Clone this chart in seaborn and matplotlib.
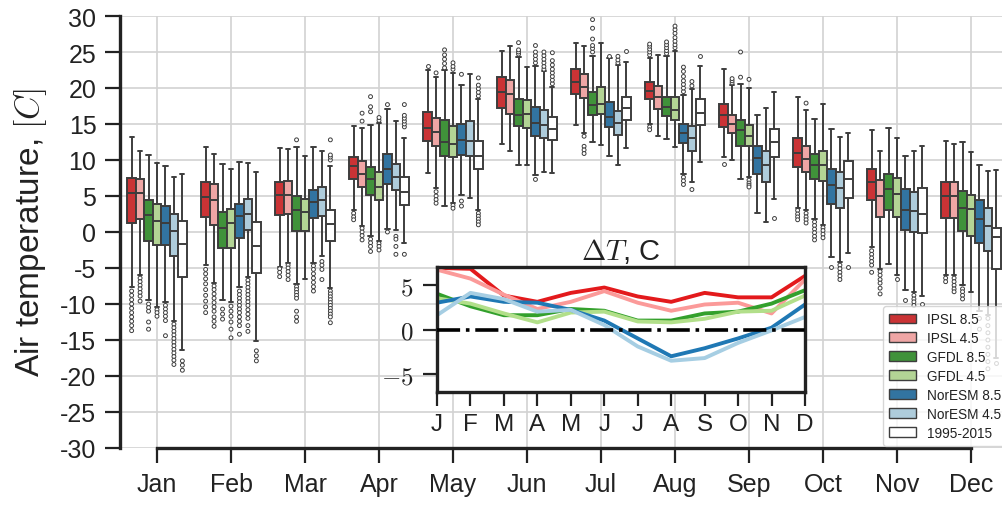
import matplotlib
matplotlib.use("Agg")
import matplotlib.pyplot as plt
from matplotlib.patches import Patch
import pandas as pd
import seaborn as sns

# ---------------------------------------------------------------- data
months = ["Jan", "Feb", "Mar", "Apr", "May", "Jun",
          "Jul", "Aug", "Sep", "Oct", "Nov", "Dec"]
month_letters = ["J", "F", "M", "A", "M", "J", "J", "A", "S", "O", "N", "D"]
models = ["IPSL 8.5", "IPSL 4.5", "GFDL 8.5", "GFDL 4.5",
          "NorESM 8.5", "NorESM 4.5", "1995-2015"]

# monthly box summaries: (whisker low, Q1, median, Q3, whisker high), deg C
ipsl85 = [(-7.6, 1.3, 5.4, 7.5, 13.2), (-4.6, 2.1, 4.9, 7.0, 11.8),
          (-4.8, 2.3, 5.1, 7.0, 11.6), (3.0, 7.4, 9.1, 10.4, 14.7),
          (8.2, 12.6, 14.5, 16.6, 22.5), (12.2, 17.2, 19.4, 21.5, 25.1),
          (14.8, 19.2, 20.9, 22.6, 26.2), (15.0, 18.5, 19.6, 20.8, 24.2),
          (10.4, 14.6, 16.25, 17.8, 22.7), (3.3, 9.0, 11.0, 13.0, 18.8),
          (-2.1, 4.5, 7.0, 8.75, 14.2), (-6.0, 1.9, 5.0, 6.9, 12.6)]
ipsl45 = [(-6.0, 1.85, 5.4, 7.3, 11.2), (-7.1, 1.0, 4.4, 6.6, 10.9),
          (-4.3, 2.5, 5.1, 7.1, 11.5), (0.9, 6.25, 8.1, 9.8, 14.4),
          (6.1, 11.9, 13.9, 15.8, 21.5), (11.2, 16.4, 19.1, 21.1, 25.9),
          (13.8, 18.6, 20.1, 22.0, 25.8), (13.4, 17.1, 18.8, 20.3, 24.6),
          (9.95, 13.7, 15.0, 16.3, 20.4), (3.0, 8.3, 10.2, 11.9, 17.0),
          (-5.1, 2.1, 5.0, 7.2, 11.2), (-6.0, 1.9, 5.0, 6.9, 12.2)]
gfdl85 = [(-9.5, -1.2, 2.3, 4.5, 10.7), (-9.4, -2.2, 0.6, 2.8, 9.5),
          (-7.2, 0.1, 3.0, 5.0, 11.8), (-0.6, 5.1, 7.4, 9.0, 14.9),
          (3.6, 10.6, 12.45, 15.5, 22.5), (9.35, 14.7, 16.25, 18.5, 24.3),
          (12.45, 16.25, 17.7, 19.5, 24.5), (12.9, 16.1, 17.4, 18.75, 24.4),
          (7.3, 12.0, 14.2, 15.6, 20.6), (1.8, 7.4, 9.3, 10.9, 15.7),
          (-4.4, 3.1, 6.0, 8.1, 14.5), (-7.4, 0.2, 3.4, 5.7, 12.5)]
gfdl45 = [(-10.4, -1.8, 1.5, 3.9, 9.6), (-9.7, -2.2, 1.2, 3.2, 8.7),
          (-6.5, 0.1, 2.8, 4.6, 10.6), (-1.3, 4.4, 6.3, 8.4, 15.1),
          (4.0, 10.4, 12.2, 14.7, 22.1), (9.35, 14.4, 16.4, 18.3, 22.9),
          (12.1, 16.4, 17.8, 20.2, 26.25), (11.8, 15.5, 17.0, 18.8, 25.2),
          (7.6, 11.9, 13.4, 14.8, 20.0), (1.0, 7.1, 9.35, 11.3, 17.8),
          (-6.0, 2.1, 5.3, 7.5, 13.1), (-8.3, -0.6, 3.2, 5.2, 11.1)]
nor85 = [(-9.7, -1.8, 1.2, 3.6, 9.2), (-7.7, -0.8, 2.2, 3.9, 9.7),
         (-4.3, 1.9, 4.1, 5.9, 11.8), (0.4, 6.6, 8.75, 10.8, 17.1),
         (5.1, 10.7, 12.8, 15.0, 20.4), (7.9, 13.4, 15.1, 17.3, 23.0),
         (10.5, 14.6, 16.0, 18.0, 24.1), (8.1, 12.3, 13.8, 15.0, 19.0),
         (2.7, 8.1, 10.3, 12.0, 16.3), (-3.5, 3.9, 6.5, 8.8, 14.3),
         (-8.0, 0.3, 3.1, 6.0, 10.6), (-11.0, -1.5, 1.85, 4.5, 9.3)]
nor45 = [(-12.4, -3.4, 0.1, 2.5, 7.6), (-6.3, 0.3, 2.5, 4.6, 9.6),
         (-3.4, 2.2, 4.4, 6.3, 11.2), (0.3, 5.9, 7.7, 9.5, 15.4),
         (4.7, 10.5, 12.7, 15.4, 21.9), (8.4, 13.1, 14.8, 16.9, 22.3),
         (9.3, 13.5, 15.1, 16.85, 23.2), (6.9, 11.3, 13.1, 14.7, 19.8),
         (1.4, 6.9, 9.3, 11.3, 17.2), (-4.2, 3.4, 6.1, 8.4, 13.2),
         (-8.4, 0.0, 2.9, 5.6, 11.2), (-11.5, -2.6, 0.9, 3.3, 8.5)]
hist = [(-16.4, -6.2, -1.7, 1.5, 8.1), (-15.2, -5.7, -2.0, 1.4, 8.4),
        (-7.8, -1.3, 1.1, 3.1, 9.1), (-1.5, 3.8, 5.5, 7.6, 13.0),
        (3.0, 8.75, 10.5, 12.7, 18.5), (8.2, 12.8, 14.3, 16.0, 20.2),
        (11.7, 15.6, 17.2, 18.7, 23.6), (9.7, 14.9, 16.5, 18.5, 23.0),
        (4.6, 10.4, 12.45, 14.3, 19.5), (-2.9, 4.7, 7.4, 9.9, 13.8),
        (-8.9, -0.2, 2.5, 6.1, 12.0), (-17.5, -5.2, -0.7, 0.6, 8.6)]

# outlying values beyond the whiskers, per month
ipsl85_out = [[-8.2, -8.8, -9.4, -10.0, -10.6, -11.2, -11.8, -12.4, -13.0, -13.7],
              [-5.2, -5.8, -6.5, -7.2, -8.0, -8.8, -9.6, -10.4, -11.2],
              [-5.1, -5.6, -6.2], [2.6, 2.1, 1.7], [23.0], [], [],
              [24.6, 25.0, 25.4, 25.8, 26.1, 14.6, 14.2], [9.5],
              [3.0, 2.5, 2.1, 1.7], [-2.6, -3.1, -3.6, -4.1, -4.6, -5.6], [-6.4, -6.9]]
ipsl45_out = [[-6.4, -6.9, -7.4, -7.9, -8.4, -8.9, -9.6],
              [-7.5, -8.0, -8.6, -9.2, -9.8, -10.4, -11.0, -11.8, -12.4, -13.1],
              [-4.6, -5.0, -5.5, -6.0, -6.6], [0.5, 0.0, -0.5, -1.1, 15.4, 16.5],
              [5.6, 5.0, 4.5, 4.0, 22.1], [], [13.3, 11.9, 11.4, 10.9], [],
              [20.7, 21.0, 21.3], [2.6, 2.1, 1.7, 1.25, 17.9],
              [-5.5, -6.0, -6.6, -7.1, -7.8, -8.6], [-6.4, -6.9, -7.4, -7.9, -8.3]]
gfdl85_out = [[-10.0, -10.5, -11.0, -12.5, -13.5], [-10.7, -11.4, -12.1],
              [-7.6, -8.0, -8.4, -8.8, -9.2, -11.0, -11.8, -12.4, 12.8],
              [-1.0, -1.5, -2.0, -2.7, 16.7, 17.4, 18.8],
              [22.8, 23.4, 24.0, 24.6, 25.3], [24.7, 25.0, 25.3, 26.3],
              [25.0, 25.5, 25.9, 26.8, 28.3, 29.5], [24.8, 25.2, 25.6, 26.0, 26.4],
              [21.5, 25.0], [1.4, 0.9, 0.4, -0.1, -0.6, -1.1], [], [-7.9, -8.3, -8.8, -9.3]]
gfdl45_out = [[-10.8, -11.2, -11.7], [-10.3, -11.0, -11.7, -12.5, -13.5, -14.7], [],
              [-1.6, -2.0, -2.5, 15.5, 15.9], [3.7, 3.3, 22.6, 23.0, 23.5], [], [],
              [25.6, 26.0, 26.5, 27.0, 27.6, 28.1, 28.6], [21.2, 7.2, 6.8, 6.5, 6.25],
              [0.6, 0.2, -0.3, -0.8], [-6.5], []]
nor85_out = [[-10.2, -10.7, -11.2, -11.7, -12.3, -14.4],
             [-8.2, -8.7, -9.2, -9.7, -10.2, -10.7, -11.2, -11.8, -12.4, -13.0, -14.2],
             [-4.7, -5.2, -5.8, -6.4, -7.0, -7.6, -8.2], [0.0, 17.7],
             [4.3, 3.6, 21.9], [23.5, 24.0, 24.5, 25.0, 25.9, 7.3], [24.4],
             [19.5, 20.0, 20.5, 21.0, 21.6, 22.3, 22.9, 7.6, 7.1, 6.6], [],
             [-4.8], [-9.5], [-12.0, -13.5]]
nor45_out = [[-12.8, -13.3, -13.8, -14.3, -14.8, -15.3, -15.8, -16.3, -16.8, -17.3, -17.8, -18.4],
             [-6.7, -7.2, -7.7, -8.2, -8.7, -9.2, -9.7, -10.2, -10.8, -11.4, -12.0, -13.0, -13.8],
             [-4.1, -4.6, -5.2, -6.6], [-0.6, -1.0, -2.0, -3.1], [],
             [22.6, 23.0, 23.5, 24.0, 24.5, 25.0], [23.5, 23.9, 24.4], [20.3, 20.9, 5.9],
             [], [-4.6, -5.1, -5.6, -6.1, -6.6], [-8.8, -9.3, -9.7, -10.2],
             [-12.0, -13.0, -14.0, -15.0, -16.0, -17.0, -18.0, -19.0]]
hist_out = [[-17.9, -18.5, -19.2], [-16.5, -17.2, -17.9],
            [-8.2, -8.6, -9.0, -9.4, -9.8, -10.2, -10.6, -11.0, -11.4, -11.8, -12.6,
             10.0, 10.4, 10.7, 12.8],
            [-3.1, 14.6, 15.0, 15.4, 15.8, 16.2, 17.7],
            [2.6, 2.2, 1.8, 1.4, 1.0, 18.9, 19.4, 19.9, 20.4, 21.4],
            [20.6, 21.1, 21.6, 22.1, 22.6, 23.2, 23.8, 24.9], [25.1], [24.4],
            [1.9], [-4.8], [-10.0], [-18.2]]

# monthly mean warming relative to 1995-2015, deg C
ipsl85_dt = [6.9, 6.8, 3.8, 3.1, 4.1, 4.7, 3.7, 3.1, 4.1, 3.6, 3.6, 6.0]
ipsl45_dt = [6.7, 5.7, 3.9, 2.3, 3.1, 4.3, 3.0, 2.1, 2.8, 3.0, 1.8, 5.6]
gfdl85_dt = [4.0, 2.6, 1.6, 1.6, 2.3, 2.1, 1.0, 1.0, 1.8, 2.0, 2.9, 4.4]
gfdl45_dt = [3.5, 2.9, 1.8, 0.8, 1.9, 2.0, 0.9, 0.8, 1.2, 2.0, 2.1, 3.8]
nor85_dt = [3.0, 3.7, 3.1, 3.0, 2.2, 1.0, -1.0, -3.0, -2.1, -1.0, 0.2, 2.8]
nor45_dt = [1.6, 4.1, 3.4, 2.0, 2.2, 0.5, -1.9, -3.5, -3.2, -1.5, -0.1, 1.4]

# ---------------------------------------------------------------- frames
box_stats = [ipsl85, ipsl45, gfdl85, gfdl45, nor85, nor45, hist]
box_outliers = [ipsl85_out, ipsl45_out, gfdl85_out, gfdl45_out, nor85_out, nor45_out, hist_out]
warming = [ipsl85_dt, ipsl45_dt, gfdl85_dt, gfdl45_dt, nor85_dt, nor45_dt]

box_rows, out_rows, dt_rows = [], [], []
for model, stats, outs in zip(models, box_stats, box_outliers):
    for month, s, o in zip(months, stats, outs):
        box_rows += [(month, model, v) for v in s]
        out_rows += [(month, model, v) for v in o]
for model, series in zip(models, warming):
    dt_rows += [(i, model, v) for i, v in enumerate(series)]
box_df = pd.DataFrame(box_rows, columns=["month", "model", "temp"])
out_df = pd.DataFrame(out_rows, columns=["month", "model", "temp"])
dt_df = pd.DataFrame(dt_rows, columns=["mi", "model", "dT"])

# ---------------------------------------------------------------- style
sns.set_theme(style="ticks")
plt.rcParams["font.family"] = ["Liberation Sans", "DejaVu Sans"]
plt.rcParams["mathtext.fontset"] = "cm"
plt.rcParams["axes.unicode_minus"] = False

paired = sns.color_palette("Paired")
colors = [paired[5], paired[4], paired[3], paired[2], paired[1], paired[0], (1, 1, 1)]
box_pal = dict(zip(models, colors))
line_pal = dict(zip(models[:6], colors[:6]))
edge = "#3d3d3d"
ink = "#222222"

W, H = 1002, 506
fig = plt.figure(figsize=(W / 100, H / 100), dpi=100)

# ---------------------------------------------------------------- main panel
ax = fig.add_axes([120 / W, (H - 449) / H, 888 / W, 432 / H])
sns.boxplot(data=box_df, x="month", y="temp", hue="model", order=months,
            hue_order=models, palette=box_pal, whis=(0, 100), showfliers=False,
            width=0.8, linewidth=1.4, linecolor=edge, legend=False, ax=ax)
sns.stripplot(data=out_df, x="month", y="temp", hue="model", order=months,
              hue_order=models, palette={m: "white" for m in models},
              dodge=True, jitter=False, size=2.8, linewidth=0.7,
              edgecolor=edge, legend=False, ax=ax)

ax.set_xlim(-0.5, 11.5)
ax.set_ylim(-30, 30)
ax.set_yticks(range(-30, 31, 5))
ax.set_xlabel("")
ax.set_ylabel("Air temperature, $[C]$", fontsize=24, color=ink, labelpad=8)
ax.set_axisbelow(True)
ax.grid(True, axis="both", color="#d2d2d2", lw=1.2)
for side in ("top", "right"):
    ax.spines[side].set_visible(False)
ax.spines["left"].set_bounds(-30, 30)
ax.spines["bottom"].set_bounds(0, 11)
for side in ("left", "bottom"):
    ax.spines[side].set_linewidth(2.4)
    ax.spines[side].set_color(ink)
ax.tick_params(axis="both", length=11, width=1.6, color=ink,
               labelsize=18, labelcolor=ink, pad=6)

# ---------------------------------------------------------------- inset
axin = fig.add_axes([437 / W, (H - 393) / H, 368 / W, 125 / H])
axin.set_facecolor("white")
sns.lineplot(data=dt_df, x="mi", y="dT", hue="model", hue_order=models[:6],
             palette=line_pal, lw=2.8, legend=False, ax=axin)
axin.axhline(0, color="black", ls="-.", lw=2.6, zorder=5)
axin.set_xlim(0, 11)
axin.set_ylim(-7, 7)
axin.set_xticks(range(12))
axin.set_xticklabels(month_letters)
axin.set_yticks([-5, 0, 5])
axin.set_yticklabels(["$-5$", "$0$", "$5$"])
axin.set_xlabel("")
axin.set_ylabel("")
axin.grid(False)
for sp in axin.spines.values():
    sp.set_linewidth(2.4)
    sp.set_color(ink)
axin.tick_params(axis="x", length=10, width=1.6, color=ink, labelsize=17.5,
                 labelcolor=ink, pad=5)
axin.tick_params(axis="y", length=10, width=1.6, color=ink, labelsize=18,
                 labelcolor=ink, pad=7)
axin.set_title("$\\Delta T$, C", fontsize=21, color=ink, pad=6)

# ---------------------------------------------------------------- legend
handles = [Patch(facecolor=sns.desaturate(c, 0.75) if m != "1995-2015" else "white",
                 edgecolor=edge, linewidth=1.0, label=m)
           for m, c in zip(models, colors)]
leg = fig.legend(handles=handles, loc="upper left",
                 bbox_to_anchor=(883 / W, (H - 307) / H),
                 bbox_transform=fig.transFigure, borderaxespad=0,
                 fontsize=9.8, frameon=True, framealpha=0.8,
                 edgecolor="#cccccc", handlelength=2.0, handleheight=0.7,
                 labelspacing=0.36, borderpad=0.45, handletextpad=0.8)
for t in leg.get_texts():
    t.set_color(ink)

fig.savefig("out.png", dpi=100)
